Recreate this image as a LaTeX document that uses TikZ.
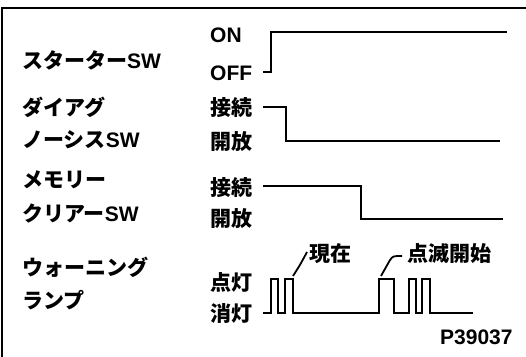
\documentclass[tikz,border=0pt]{standalone}
\usepackage{fontspec}
\setmainfont{Noto Sans CJK JP}
\newfontfamily\lat{Liberation Sans}
\begin{document}
\begin{tikzpicture}[x=1pt,y=-1pt,
  lbl/.style={anchor=west,inner sep=0pt,font=\fontsize{21}{25}\selectfont\bfseries},
  wave/.style={line width=1.5pt,line join=miter},
  lead/.style={line width=1.8pt},
  frame/.style={line width=2pt}]
\useasboundingbox (0,0) rectangle (526,356);
\fill[white] (0,0) rectangle (526,356);
\draw[frame] (2,360) -- (2,8) -- (530,8);
% left labels
\node[lbl] (st) at (22,60) {スターター{\lat SW}};
\node[lbl] (di1) at (22,107) {ダイアグ};
\node[lbl] (di2) at (22,140) {ノーシス{\lat SW}};
\node[lbl] (me1) at (22,180) {メモリー};
\node[lbl] (me2) at (22,213) {クリアー{\lat SW}};
\node[lbl] (wl1) at (22,267) {ウォーニング};
\node[lbl] (wl2) at (22,300) {ランプ};
% state labels
\node[lbl] (on) at (210,35) {\lat ON};
\node[lbl] (off) at (210,73) {\lat OFF};
\node[lbl] (dcon) at (210,108) {接続};
\node[lbl] (dopn) at (210,142) {開放};
\node[lbl] (mcon) at (210,188) {接続};
\node[lbl] (mopn) at (210,219) {開放};
\node[lbl] (lon) at (210,282) {点灯};
\node[lbl] (loff) at (210,313) {消灯};
\node[lbl] (now) at (309,254) {現在};
\node[lbl] (blink) at (407,254) {点滅開始};
\node[lbl] (code) at (440,337) {\lat P39037};
% waveforms
\coordinate (s0) at (263,72);
\coordinate (d0) at (263,107);
\coordinate (m0) at (263,186);
\coordinate (l0) at (263,313);
\draw[wave] (s0) -- (271,72) -- (271,32) -- (507,32);
\draw[wave] (d0) -- (286,107) -- (286,141) -- (500,141);
\draw[wave] (m0) -- (361,186) -- (361,219) -- (503,219);
\draw[wave] (l0) -- (271,313) -- (271,279) -- (278,279) -- (278,313)
  -- (285,313) -- (285,279) -- (293,279) -- (293,313) -- (379,313)
  -- (379,279) -- (394,279) -- (394,313) -- (409,313) -- (409,279)
  -- (416,279) -- (416,313) -- (422,313) -- (422,279) -- (430,279)
  -- (430,313) -- (473,313);
% leaders
\coordinate (n0) at (293,276);
\coordinate (b0) at (381,276);
\draw[lead] (n0) .. controls (300,265) .. (307,252);
\draw[lead] (b0) -- (390,260) .. controls (393,256) .. (402,256);
\end{tikzpicture}
\end{document}
